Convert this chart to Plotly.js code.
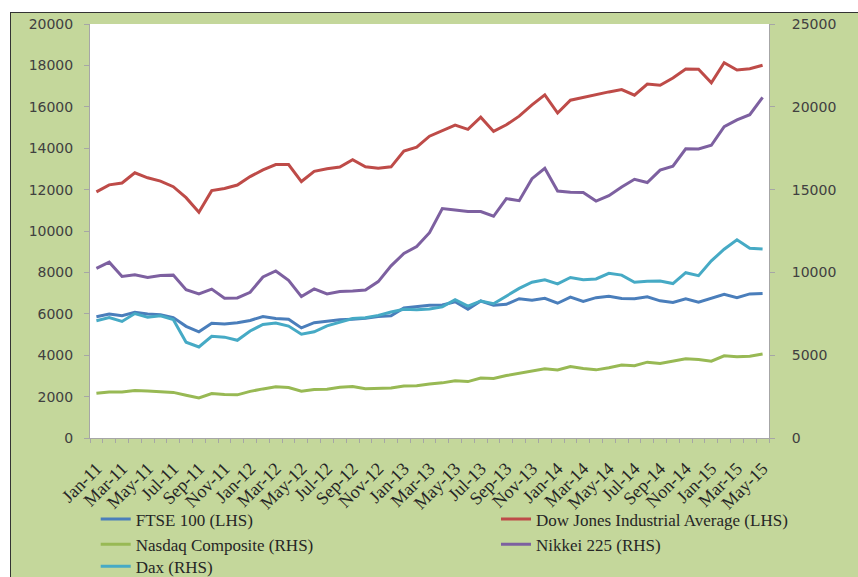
<!DOCTYPE html>
<html>
<head>
<meta charset="utf-8">
<script src="https://cdn.plot.ly/plotly-3.0.1.min.js"></script>
<style>
  html, body { margin: 0; padding: 0; background: #ffffff; width: 858px; height: 577px; overflow: hidden; }
  #frame { position: absolute; left: 10px; top: 12px; width: 848px; height: 565px;
           border-left: 1px solid #333; border-top: 1px solid #333; background: #c4d79b; }
  #chart { width: 847px; height: 564px; }
</style>
</head>
<body>
<div id="frame"><div id="chart"></div></div>
<script>
const months = ["Jan-11","Feb-11","Mar-11","Apr-11","May-11","Jun-11","Jul-11","Aug-11","Sep-11","Oct-11","Nov-11","Dec-11",
  "Jan-12","Feb-12","Mar-12","Apr-12","May-12","Jun-12","Jul-12","Aug-12","Sep-12","Oct-12","Nov-12","Dec-12",
  "Jan-13","Feb-13","Mar-13","Apr-13","May-13","Jun-13","Jul-13","Aug-13","Sep-13","Oct-13","Nov-13","Dec-13",
  "Jan-14","Feb-14","Mar-14","Apr-14","May-14","Jun-14","Jul-14","Aug-14","Sep-14","Oct-14","Non-14","Dec-14",
  "Jan-15","Feb-15","Mar-15","Apr-15","May-15"];

const ftse = [5860,5990,5910,6070,5990,5950,5815,5395,5130,5545,5505,5570,
  5680,5870,5770,5740,5320,5570,5635,5710,5740,5780,5870,5900,
  6280,6360,6410,6430,6580,6215,6620,6410,6460,6730,6650,6750,
  6510,6810,6600,6780,6845,6745,6730,6820,6625,6545,6720,6565,
  6750,6945,6775,6960,6985];
const dow = [11890,12230,12320,12810,12570,12410,12140,11610,10910,11950,12050,12220,
  12630,12950,13210,13210,12390,12880,13010,13090,13440,13100,13030,13100,
  13860,14050,14580,14840,15120,14910,15500,14810,15130,15550,16090,16580,
  15700,16320,16460,16580,16720,16830,16560,17100,17040,17390,17830,17820,
  17160,18130,17780,17840,18010];
const nasdaq = [2700,2780,2780,2870,2835,2775,2755,2580,2415,2685,2620,2605,
  2815,2965,3090,3045,2825,2935,2940,3065,3115,2975,3010,3020,
  3140,3160,3265,3330,3455,3405,3625,3590,3770,3920,4060,4175,
  4105,4310,4200,4115,4245,4410,4370,4580,4495,4630,4790,4735,
  4635,4965,4900,4940,5070];
const nikkei = [10240,10620,9755,9850,9695,9815,9835,8955,8700,8990,8435,8455,
  8800,9725,10085,9520,8540,9005,8695,8840,8870,8930,9445,10395,
  11140,11560,12400,13860,13775,13675,13670,13390,14455,14330,15660,16290,
  14915,14840,14830,14305,14630,15160,15620,15425,16175,16415,17460,17450,
  17675,18800,19205,19520,20565];
const dax = [7080,7270,7040,7515,7295,7375,7160,5785,5500,6140,6090,5900,
  6460,6855,6945,6760,6265,6415,6770,6970,7215,7260,7405,7610,
  7775,7740,7795,7915,8350,7960,8275,8105,8595,9035,9405,9550,
  9305,9690,9555,9605,9945,9835,9405,9470,9475,9325,9980,9805,
  10695,11400,11965,11455,11415];

const names = ["FTSE 100 (LHS)","Dow Jones Industrial Average (LHS)","Nasdaq Composite (RHS)","Nikkei 225 (RHS)","Dax (RHS)"];
const colors = ["#4a7ebb","#be4b48","#98b954","#7d60a0","#46aac5"];
const series = [ftse, dow, nasdaq, nikkei, dax];
const axes = ["y","y","y2","y2","y2"];
const legendOf = ["legend","legend2","legend","legend2","legend3"];

const idx = months.map((m, i) => i);
const traces = series.map((s, k) => ({
  type: "scatter", mode: "lines", name: names[k], x: idx, y: s, yaxis: axes[k],
  legend: legendOf[k],
  line: { color: colors[k], width: 3 }, hoverinfo: "skip"
}));

const evenIdx = idx.filter(i => i % 2 === 0);
const legendFont = { family: "Liberation Serif, serif", size: 17, color: "#262626" };
function legendAt(x, y) {
  return {
    orientation: "h", xref: "container", yref: "container",
    x: x, xanchor: "left", y: y, yanchor: "top",
    entrywidth: 420, entrywidthmode: "pixels",
    bgcolor: "rgba(0,0,0,0)", borderwidth: 0, font: legendFont, tracegroupgap: 0
  };
}
const layout = {
  width: 847, height: 564,
  margin: { l: 79, r: 89, t: 11, b: 139, pad: 0 },
  paper_bgcolor: "#c4d79b",
  plot_bgcolor: "#ffffff",
  showlegend: true,
  xaxis: {
    range: [-0.5, 52.5], showgrid: false, zeroline: false,
    showline: true, linecolor: "#a6a6a6", linewidth: 1,
    tickmode: "array", tickvals: evenIdx, ticktext: evenIdx.map(i => months[i]),
    ticks: "", tickangle: -45, ticklen: 0, ticklabelstandoff: 12,
    tickfont: { family: "Liberation Serif, serif", size: 18, color: "#262626" },
    minor: { tick0: -0.5, dtick: 1, ticks: "outside", ticklen: 4, tickcolor: "#a6a6a6", showgrid: false }
  },
  yaxis: {
    range: [0, 20000], dtick: 2000, tickformat: "d", showgrid: false, zeroline: false,
    showline: true, linecolor: "#a6a6a6", linewidth: 1,
    ticks: "outside", ticklen: 5, tickcolor: "#a6a6a6",
    tickfont: { family: "DejaVu Sans, sans-serif", size: 14, color: "#404040" },
    ticklabelstandoff: 8
  },
  yaxis2: {
    range: [0, 25000], dtick: 5000, tickformat: "d", overlaying: "y", side: "right",
    showgrid: false, zeroline: false,
    showline: true, linecolor: "#a6a6a6", linewidth: 1,
    ticks: "outside", ticklen: 5, tickcolor: "#a6a6a6",
    tickfont: { family: "DejaVu Sans, sans-serif", size: 14, color: "#404040" },
    ticklabelstandoff: 14
  },
  legend: legendAt(0.1, 0.1338),
  legend2: legendAt(0.5726, 0.1338),
  legend3: legendAt(0.1, 0.050)
};

Plotly.newPlot("chart", traces, layout, { displayModeBar: false, staticPlot: true });
</script>
</body>
</html>
